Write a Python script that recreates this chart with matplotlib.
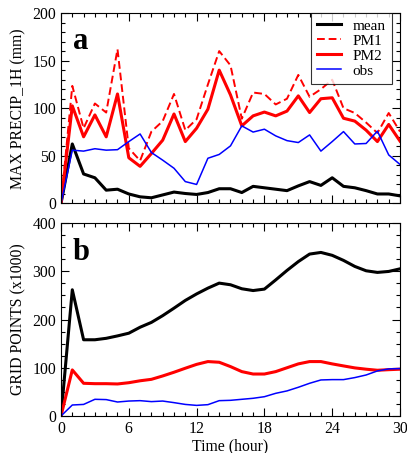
import matplotlib
matplotlib.use("Agg")
import matplotlib.pyplot as plt
from matplotlib.ticker import MultipleLocator

plt.rcParams['font.family'] = ['Liberation Serif', 'DejaVu Serif']

hours = list(range(31))

# panel a: max hourly precip (mm)
mean_a = [0, 62.5, 31, 27, 14, 15, 10, 7, 6, 9, 12, 10.5, 9.5, 11.5, 15.5, 15.5,
          11.5, 18, 16.5, 15, 13.5, 18.5, 23, 19, 27, 18, 16.5, 13.5, 10, 10, 8]
pm1_a = [0, 123.5, 79, 105, 95.5, 162, 58, 45, 75.5, 86.5, 115, 77, 88.5, 125, 160, 145,
         89, 116.5, 115, 104, 110, 135, 112, 120, 130, 100, 95, 85, 74, 95, 75.5]
pm2_a = [0, 102.5, 70, 93, 70, 115, 48, 39, 52.5, 66.5, 94, 65, 79, 99, 140, 114,
         81.5, 92, 96, 92, 97, 113, 95.5, 110, 111, 89.5, 86.5, 77, 65, 83, 65.5]
obs_a = [0, 56, 55, 57.5, 56, 56.5, 65, 73, 53.5, 45.5, 37, 23, 20, 47.5, 51.5, 60.5,
         81.5, 75, 78, 71, 66, 64, 72, 55, 65, 75.5, 62.5, 63, 76, 51, 41]

# panel b: grid points (x1000)
mean_b = [0, 261.6, 158, 158, 161, 166, 171.6, 184, 194, 208, 223.5, 239.5, 253, 265, 275.4, 272,
          263.7, 260, 263, 282, 301.7, 320, 335.6, 339, 333, 322.5, 310, 301, 297.6, 299.6, 305]
pm_b = [0, 95.5, 67.8, 67, 67, 66.4, 69, 73, 76, 83, 90.7, 99, 107, 112.8, 111.4, 102.4,
        92, 87, 87, 92, 100, 108, 112.8, 112.8, 108, 103.8, 99.7, 97, 94.8, 96, 97]
obs_b = [0, 22.8, 24, 34.6, 34, 29, 31, 31.8, 29.8, 31, 27.7, 24, 22, 23.5, 31.8, 32.5,
         34.6, 36.7, 40, 47, 52, 59.5, 67.8, 74.7, 75.4, 75.4, 79.6, 85, 93.4, 97.6, 98.3]

fig = plt.figure(figsize=(4.07, 4.53), dpi=100)
ax1 = fig.add_axes([61/407, 1 - 203.5/453, 339/407, 190.5/453])
ax2 = fig.add_axes([61/407, 1 - 416/453, 339/407, 193/453])

ax1.plot(hours, mean_a, color='black', lw=2.2, label='mean')
ax1.plot(hours, pm1_a, color='red', lw=1.4, ls=(0, (4, 2)), label='PM1')
ax1.plot(hours, pm2_a, color='red', lw=2.2, label='PM2')
ax1.plot(hours, obs_a, color='blue', lw=1.1, label='obs')

ax2.plot(hours, mean_b, color='black', lw=2.2)
ax2.plot(hours, pm_b, color='red', lw=2.2)
ax2.plot(hours, obs_b, color='blue', lw=1.1)

for ax in (ax1, ax2):
    ax.set_xlim(0, 30)
    ax.xaxis.set_major_locator(MultipleLocator(6))
    ax.xaxis.set_minor_locator(MultipleLocator(1))
    ax.tick_params(which='both', direction='in', top=True, right=True, labelsize=11.3, width=0.8)
    ax.tick_params(which='major', length=6)
    ax.tick_params(which='minor', length=3)
    for s in ax.spines.values():
        s.set_linewidth(0.8)

ax1.set_ylim(0, 200)
ax1.yaxis.set_major_locator(MultipleLocator(50))
ax1.yaxis.set_minor_locator(MultipleLocator(10))
ax1.set_xticklabels([])
ax1.set_ylabel('MAX PRECIP_1H (mm)', fontsize=11.3)
ax1.text(0.035, 0.85, 'a', transform=ax1.transAxes, fontsize=22, fontweight='bold', va='center')
leg = ax1.legend(loc='upper right', bbox_to_anchor=(0.976, 1.0), fontsize=11, frameon=True,
                 fancybox=False, handlelength=1.6, handletextpad=0.75, borderaxespad=0.0,
                 labelspacing=0.08, borderpad=0.4)
leg.get_frame().set_edgecolor('black')
leg.get_frame().set_linewidth(0.8)

ax2.set_ylim(0, 400)
ax2.yaxis.set_major_locator(MultipleLocator(100))
ax2.yaxis.set_minor_locator(MultipleLocator(25))
ax2.set_ylabel('GRID POINTS (x1000)', fontsize=11.3)
ax2.set_xlabel('Time (hour)', fontsize=11.3, labelpad=1)
ax2.text(0.035, 0.845, 'b', transform=ax2.transAxes, fontsize=22, fontweight='bold', va='center')

fig.savefig('out.png', dpi=100)
